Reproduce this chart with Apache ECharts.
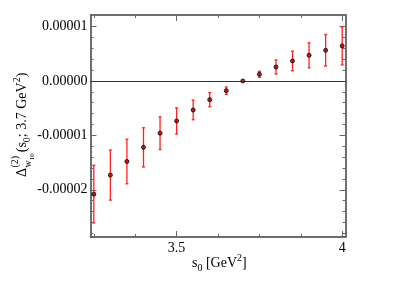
<!DOCTYPE html>
<html>
<head>
<meta charset="utf-8">
<script src="https://cdn.jsdelivr.net/npm/echarts@6/dist/echarts.min.js"></script>
<style>
html,body{margin:0;padding:0;background:#fff;}
#chart{width:403px;height:285px;}
</style>
</head>
<body>
<div id="chart"></div>
<script>
// ---- data ----
const s0 = [3.25, 3.30, 3.35, 3.40, 3.45, 3.50, 3.55, 3.60, 3.65, 3.70, 3.75, 3.80, 3.85, 3.90, 3.95, 4.00];
const delta = [-2.08e-5, -1.73e-5, -1.48e-5, -1.22e-5, -0.96e-5, -0.735e-5, -0.533e-5, -0.343e-5, -0.178e-5, 0, 0.123e-5, 0.257e-5, 0.368e-5, 0.472e-5, 0.564e-5, 0.645e-5];
const err = [0.53e-5, 0.46e-5, 0.41e-5, 0.36e-5, 0.30e-5, 0.24e-5, 0.18e-5, 0.13e-5, 0.068e-5, 0, 0.055e-5, 0.13e-5, 0.18e-5, 0.23e-5, 0.29e-5, 0.35e-5];

const xMajorTicks = [3.5, 4];
const xMinorTicks = [3.25, 3.375, 3.625, 3.75, 3.875];
const yMajorTicks = [-2e-5, -1e-5, 0, 1e-5];
const yMinorTicks = [-2.8e-5, -2.6e-5, -2.4e-5, -2.2e-5, -1.8e-5, -1.6e-5, -1.4e-5, -1.2e-5, -0.8e-5, -0.6e-5, -0.4e-5, -0.2e-5, 0.2e-5, 0.4e-5, 0.6e-5, 0.8e-5];

const xMin = 3.24, xMax = 4.01;
const yMin = -2.868e-5, yMax = 1.213e-5;

// ---- layout helpers (text only) ----
const FF = 'Liberation Serif';
const mctx = document.createElement('canvas').getContext('2d');
function tw(t, fs){ mctx.font = fs + 'px "' + FF + '"'; return mctx.measureText(t).width; }
function piece(t, fs, x, b){
  return {type:'text', x: x, y: b - 0.34*fs,
    style:{text:t, fontSize:fs, fontFamily:FF, fill:'#000', textAlign:'left', textVerticalAlign:'middle'}};
}
function runPieces(list, startX){
  let x = startX; const out = [];
  list.forEach(p => { out.push(piece(p[0], p[1], x, p[2])); x += tw(p[0], p[1]); });
  return {children: out, end: x};
}

// y-axis title: Δ^(2)_{w10}(s0; 3.7 GeV^2)
const yTitle = (function(){
  const ch = [];
  const dw = tw('Δ', 14);
  ch.push(piece('Δ', 14, 0, 0));
  const sx = dw + 0.5;
  ch.push(piece('(2)', 10, sx, -8));
  ch.push(piece('w', 10, sx, 5));
  const ww = tw('w', 10);
  ch.push(piece('10', 7, sx + ww, 8));
  const stackW = Math.max(tw('(2)', 10), ww + tw('10', 7));
  const r = runPieces([['(s',14,0],['0',10,4],['; 3.7 GeV',14,0],['2',10,-6],[')',14,0]], sx + stackW + 1);
  return ch.concat(r.children);
})();

const xTitle = runPieces([['s',14,0],['0',10,4],[' [GeV',14,0],['2',10,-6],[']',14,0]], 0).children;

// ---- axes ----
const frameColor = '#666';
function xAx(pos, ticks, len, labels){
  return {type:'value', position:pos, min:xMin, max:xMax, gridIndex:0,
    axisLine:{show:true, onZero:false, lineStyle:{color:frameColor, width:1.5}},
    axisTick:{show:true, inside:true, length:len, customValues:ticks, lineStyle:{color:frameColor, width:1}},
    axisLabel: labels ? {show:true, customValues:ticks, margin:4, color:'#000', fontSize:14, fontFamily:FF, formatter:v=>String(v)} : {show:false},
    splitLine:{show:false}};
}
function yAx(pos, ticks, len, labels){
  return {type:'value', position:pos, min:yMin, max:yMax, gridIndex:0,
    axisLine:{show:true, onZero:false, lineStyle:{color:frameColor, width:1.5}},
    axisTick:{show:true, inside:true, length:len, customValues:ticks, lineStyle:{color:frameColor, width:1}},
    axisLabel: labels ? {show:true, customValues:ticks, margin:3, color:'#000', fontSize:14, fontFamily:FF,
      formatter:v=> Math.abs(v) < 1e-12 ? '0.00000' : v.toFixed(5)} : {show:false},
    splitLine:{show:false}};
}

const chart = echarts.init(document.getElementById('chart'), null, {renderer:'canvas'});
chart.setOption({
  animation:false,
  backgroundColor:'#fff',
  grid:{left:90.5, right:57.5, top:15, bottom:48, containLabel:false},
  xAxis:[xAx('bottom', xMajorTicks, 6, true), xAx('bottom', xMinorTicks, 3, false),
         xAx('top', xMajorTicks, 6, false), xAx('top', xMinorTicks, 3, false)],
  yAxis:[yAx('left', yMajorTicks, 6, true), yAx('left', yMinorTicks, 3, false),
         yAx('right', yMajorTicks, 6, false), yAx('right', yMinorTicks, 3, false)],
  graphic:[
    {type:'group', x:27, y:177, rotation:Math.PI/2, children:yTitle},
    {type:'group', x:192, y:268, children:xTitle}
  ],
  series:[
    {type:'custom', xAxisIndex:0, yAxisIndex:0, z:2,
      data: s0.map((x,i)=>[x, delta[i], err[i]]),
      renderItem:function(params, api){
        const x = api.value(0), y = api.value(1), e = api.value(2);
        if (!e) return {type:'group', children:[]};
        const t = api.coord([x, y+e]), b = api.coord([x, y-e]);
        const st = {stroke:'#ff2020', lineWidth:1.3};
        return {type:'group', children:[
          {type:'line', shape:{x1:t[0], y1:t[1], x2:b[0], y2:b[1]}, style:st},
          {type:'line', shape:{x1:t[0]-1.5, y1:t[1], x2:t[0]+1.5, y2:t[1]}, style:st},
          {type:'line', shape:{x1:b[0]-1.5, y1:b[1], x2:b[0]+1.5, y2:b[1]}, style:st}
        ]};
      }
    },
    {type:'scatter', xAxisIndex:0, yAxisIndex:0, z:3,
      data: s0.map((x,i)=>[x, delta[i]]),
      symbol:'circle', symbolSize:4,
      itemStyle:{color:'#b00000', borderColor:'#000', borderWidth:1},
      markLine:{symbol:'none', silent:true, label:{show:false}, z:1,
        lineStyle:{color:'#333', width:1, type:'solid'},
        data:[{yAxis:0}]}
    }
  ]
});
</script>
</body>
</html>
